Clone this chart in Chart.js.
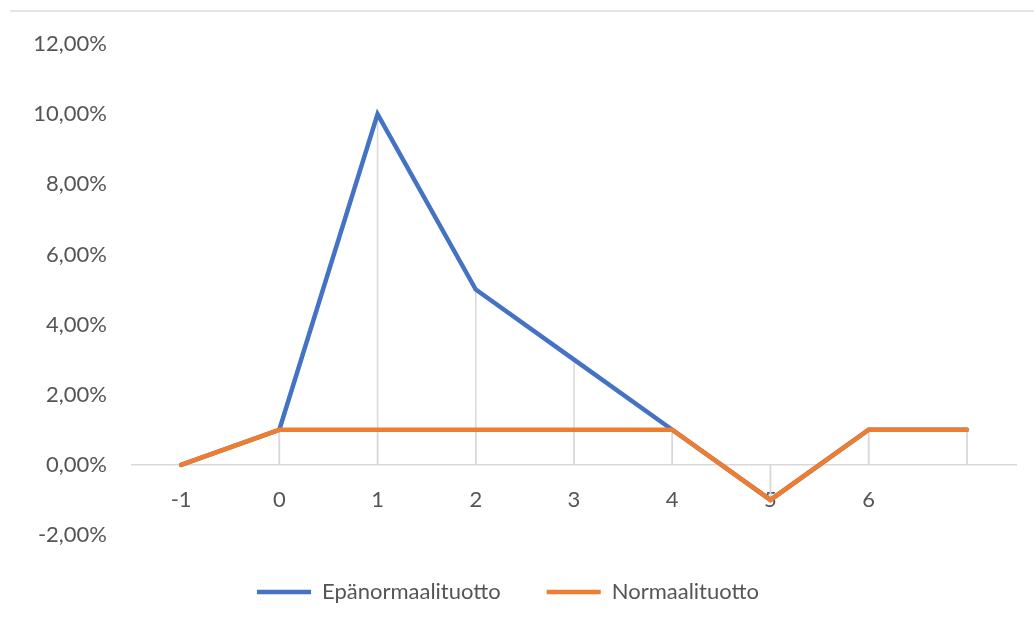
<!DOCTYPE html>
<html>
<head>
<meta charset="utf-8">
<script src="https://cdn.jsdelivr.net/npm/chart.js@4/dist/chart.umd.min.js"></script>
<style>
  html, body { margin: 0; padding: 0; background: #ffffff; }
  #wrap { position: relative; width: 1034px; height: 630px; }
  #topRule { position: absolute; left: 10px; right: 0; top: 10px; height: 2px; background: #e4e4e4; }
  canvas { position: absolute; left: 0; top: 0; }
</style>
</head>
<body>
<div id="wrap">
  <div id="topRule"></div>
  <canvas id="chart" width="1034" height="630"></canvas>
</div>
<script>
// Event-window categories (last slot has no label)
const categories = ['-1', '0', '1', '2', '3', '4', '5', '6', ''];

// Returns in percent
const abnormalReturn = [0, 1, 10, 5, 3, 1, -1, 1, 1];
const normalReturn   = [0, 1, 1, 1, 1, 1, -1, 1, 1];

// Value axis
const yMin = -2;
const yMax = 12;
const yStep = 2;

const seriesNames = ['Epänormaalituotto', 'Normaalituotto'];
const seriesColors = ['#4472C4', '#ED7D31'];

const textColor = '#555555';
const lineGray = '#d9d9d9';
const fontFamily = 'Lato, "Open Sans", sans-serif';

function percentLabel(v) {
  return Number(v).toFixed(2).replace('.', ',') + '%';
}

// Vertical drop lines from every point to the zero line
const dropLines = {
  id: 'dropLines',
  beforeDatasetsDraw(chart) {
    const { ctx, scales } = chart;
    const zero = scales.y.getPixelForValue(0);
    ctx.save();
    ctx.strokeStyle = lineGray;
    ctx.lineWidth = 1.5;
    chart.data.datasets.forEach((ds, i) => {
      const meta = chart.getDatasetMeta(i);
      meta.data.forEach(pt => {
        ctx.beginPath();
        ctx.moveTo(pt.x, pt.y);
        ctx.lineTo(pt.x, zero);
        ctx.stroke();
      });
    });
    ctx.restore();
  }
};

const ctx = document.getElementById('chart').getContext('2d');
new Chart(ctx, {
  type: 'line',
  data: {
    labels: categories,
    datasets: [
      {
        label: seriesNames[0],
        data: abnormalReturn,
        borderColor: seriesColors[0],
        backgroundColor: seriesColors[0],
        borderWidth: 4.5,
        pointRadius: 0,
        borderCapStyle: 'round',
        borderJoinStyle: 'miter',
        tension: 0,
        order: 2
      },
      {
        label: seriesNames[1],
        data: normalReturn,
        borderColor: seriesColors[1],
        backgroundColor: seriesColors[1],
        borderWidth: 4.5,
        pointRadius: 0,
        borderCapStyle: 'round',
        borderJoinStyle: 'miter',
        tension: 0,
        order: 1
      }
    ]
  },
  options: {
    responsive: false,
    animation: false,
    layout: { padding: { top: 44, right: 18, left: 0, bottom: 17 } },
    scales: {
      x: {
        type: 'category',
        position: { y: 0 },
        offset: true,
        grid: { display: false, drawTicks: false },
        border: { display: true, color: lineGray, width: 1.5 },
        ticks: {
          color: textColor,
          font: { family: fontFamily, size: 22 },
          padding: 22,
          autoSkip: false,
          maxRotation: 0
        }
      },
      y: {
        min: yMin,
        max: yMax,
        grid: { display: false, drawTicks: false },
        border: { display: false },
        ticks: {
          stepSize: yStep,
          color: textColor,
          font: { family: fontFamily, size: 22 },
          padding: 25,
          callback: percentLabel
        },
        afterFit(scale) { scale.width = 132; }
      }
    },
    plugins: {
      legend: {
        position: 'bottom',
        labels: {
          color: textColor,
          font: { family: fontFamily, size: 22 },
          usePointStyle: true,
          pointStyle: 'line',
          pointStyleWidth: 54,
          padding: 46,
          sort: (a, b) => a.datasetIndex - b.datasetIndex
        }
      },
      tooltip: { enabled: false }
    }
  },
  plugins: [dropLines]
});
</script>
</body>
</html>
